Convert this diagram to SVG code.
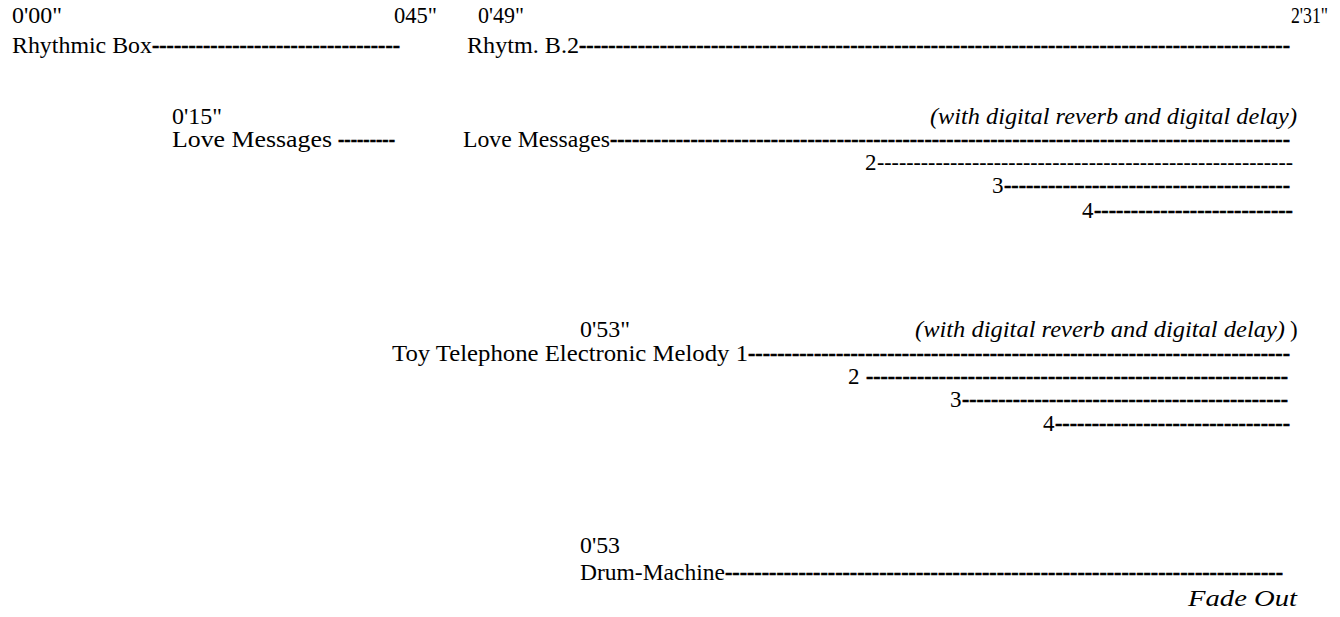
<svg xmlns="http://www.w3.org/2000/svg" width="1340" height="617" viewBox="0 0 1340 617">
<style>
text{font-family:"Liberation Serif","Times New Roman",serif;font-size:23px;fill:#000}
.it{font-style:italic}
.b{font-weight:bold;stroke:#000;stroke-width:0.5}
.n{font-weight:normal}
</style>
<rect width="1340" height="617" fill="#fff"/>
<g id="times">
<text x="12" y="23" textLength="50" lengthAdjust="spacingAndGlyphs">0'00"</text>
<text x="394" y="23" textLength="43" lengthAdjust="spacingAndGlyphs">045"</text>
<text x="478" y="23" textLength="46" lengthAdjust="spacingAndGlyphs">0'49"</text>
<text x="1291" y="23" textLength="37" lengthAdjust="spacingAndGlyphs">2'31"</text>
<text x="172" y="124" textLength="50" lengthAdjust="spacingAndGlyphs">0'15"</text>
<text x="580" y="337" textLength="50" lengthAdjust="spacingAndGlyphs">0'53"</text>
<text x="580" y="553" textLength="40" lengthAdjust="spacingAndGlyphs">0'53</text>
</g>
<g id="rhythmic-box">
<text x="12" y="53" textLength="140" lengthAdjust="spacingAndGlyphs">Rhythmic Box</text>
</g>
<g id="rhythm-b2">
<text x="467" y="53" textLength="112" lengthAdjust="spacingAndGlyphs">Rhytm. B.2</text>
</g>
<g id="love-messages-1">
<text x="172" y="147" textLength="160" lengthAdjust="spacingAndGlyphs">Love Messages</text>
</g>
<g id="love-messages-2">
<text x="463" y="147" textLength="147" lengthAdjust="spacingAndGlyphs">Love Messages</text>
<text class="it" x="930" y="124" textLength="367" lengthAdjust="spacingAndGlyphs">(with digital reverb and digital delay)</text>
<text x="865" y="170">2</text>
<text x="992" y="193">3</text>
<text x="1082" y="218">4</text>
</g>
<g id="toy-telephone">
<text class="it" x="915" y="337" textLength="370" lengthAdjust="spacingAndGlyphs">(with digital reverb and digital delay)</text>
<text x="1290" y="337">)</text>
<text x="392" y="361" textLength="356" lengthAdjust="spacingAndGlyphs">Toy  Telephone  Electronic Melody 1</text>
<text x="848" y="384">2</text>
<text x="950" y="407">3</text>
<text x="1043" y="431">4</text>
</g>
<g id="drum-machine">
<text x="580" y="580" textLength="145" lengthAdjust="spacingAndGlyphs">Drum-Machine</text>
</g>
<g id="fade-out">
<text class="it" x="1188" y="606" textLength="109" lengthAdjust="spacingAndGlyphs">Fade Out</text>
</g>
<g id="connectors">
<text class="b" x="152" y="53" textLength="248" lengthAdjust="spacingAndGlyphs">----------------------------------</text>
<text class="b" x="579" y="53" textLength="711" lengthAdjust="spacingAndGlyphs">-------------------------------------------------------------------------------------------------</text>
<text class="b" x="338" y="147" textLength="57" lengthAdjust="spacingAndGlyphs">---------</text>
<text class="b" x="610" y="147" textLength="680" lengthAdjust="spacingAndGlyphs">---------------------------------------------------------------------------------------------</text>
<text class="n" x="877" y="170" textLength="416" lengthAdjust="spacingAndGlyphs">---------------------------------------------------------</text>
<text class="b" x="1004" y="193" textLength="286" lengthAdjust="spacingAndGlyphs">---------------------------------------</text>
<text class="b" x="1094" y="218" textLength="199" lengthAdjust="spacingAndGlyphs">---------------------------</text>
<text class="b" x="748" y="361" textLength="542" lengthAdjust="spacingAndGlyphs">--------------------------------------------------------------------------</text>
<text class="b" x="866" y="384" textLength="422" lengthAdjust="spacingAndGlyphs">----------------------------------------------------------</text>
<text class="b" x="962" y="407" textLength="326" lengthAdjust="spacingAndGlyphs">---------------------------------------------</text>
<text class="b" x="1055" y="431" textLength="235" lengthAdjust="spacingAndGlyphs">--------------------------------</text>
<text class="b" x="725" y="580" textLength="558" lengthAdjust="spacingAndGlyphs">----------------------------------------------------------------------------</text>
</g>
</svg>
